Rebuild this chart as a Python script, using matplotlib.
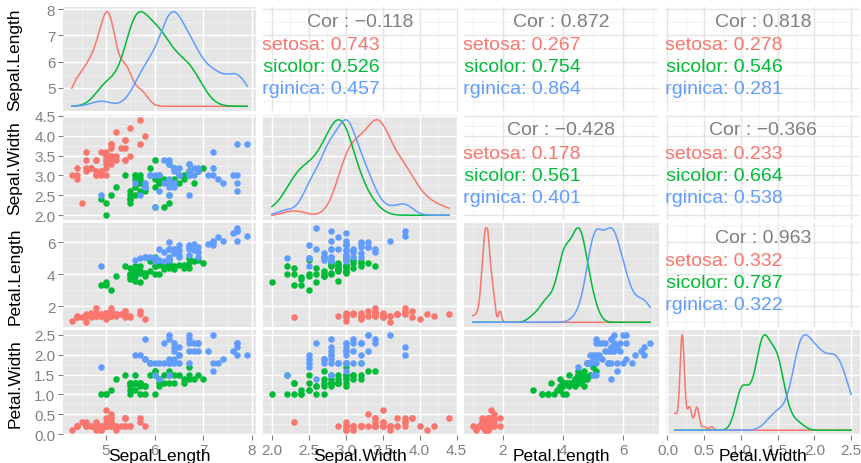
import numpy as np
import matplotlib.pyplot as plt

plt.rcParams["font.family"] = ["Liberation Sans", "DejaVu Sans"]

variables = ["Sepal.Length", "Sepal.Width", "Petal.Length", "Petal.Width"]
species = ["setosa", "versicolor", "virginica"]
species_colors = ["#F8766D", "#00BA38", "#619CFF"]
n_per_species = 50

# iris measurements, 50 rows per species in the order above
sepal_length = [
    5.1, 4.9, 4.7, 4.6, 5.0, 5.4, 4.6, 5.0, 4.4, 4.9, 5.4, 4.8, 4.8, 4.3, 5.8, 5.7, 5.4, 5.1, 5.7, 5.1,
    5.4, 5.1, 4.6, 5.1, 4.8, 5.0, 5.0, 5.2, 5.2, 4.7, 4.8, 5.4, 5.2, 5.5, 4.9, 5.0, 5.5, 4.9, 4.4, 5.1,
    5.0, 4.5, 4.4, 5.0, 5.1, 4.8, 5.1, 4.6, 5.3, 5.0,
    7.0, 6.4, 6.9, 5.5, 6.5, 5.7, 6.3, 4.9, 6.6, 5.2, 5.0, 5.9, 6.0, 6.1, 5.6, 6.7, 5.6, 5.8, 6.2, 5.6,
    5.9, 6.1, 6.3, 6.1, 6.4, 6.6, 6.8, 6.7, 6.0, 5.7, 5.5, 5.5, 5.8, 6.0, 5.4, 6.0, 6.7, 6.3, 5.6, 5.5,
    5.5, 6.1, 5.8, 5.0, 5.6, 5.7, 5.7, 6.2, 5.1, 5.7,
    6.3, 5.8, 7.1, 6.3, 6.5, 7.6, 4.9, 7.3, 6.7, 7.2, 6.5, 6.4, 6.8, 5.7, 5.8, 6.4, 6.5, 7.7, 7.7, 6.0,
    6.9, 5.6, 7.7, 6.3, 6.7, 7.2, 6.2, 6.1, 6.4, 7.2, 7.4, 7.9, 6.4, 6.3, 6.1, 7.7, 6.3, 6.4, 6.0, 6.9,
    6.7, 6.9, 5.8, 6.8, 6.7, 6.7, 6.3, 6.5, 6.2, 5.9,
]
sepal_width = [
    3.5, 3.0, 3.2, 3.1, 3.6, 3.9, 3.4, 3.4, 2.9, 3.1, 3.7, 3.4, 3.0, 3.0, 4.0, 4.4, 3.9, 3.5, 3.8, 3.8,
    3.4, 3.7, 3.6, 3.3, 3.4, 3.0, 3.4, 3.5, 3.4, 3.2, 3.1, 3.4, 4.1, 4.2, 3.1, 3.2, 3.5, 3.6, 3.0, 3.4,
    3.5, 2.3, 3.2, 3.5, 3.8, 3.0, 3.8, 3.2, 3.7, 3.3,
    3.2, 3.2, 3.1, 2.3, 2.8, 2.8, 3.3, 2.4, 2.9, 2.7, 2.0, 3.0, 2.2, 2.9, 2.9, 3.1, 3.0, 2.7, 2.2, 2.5,
    3.2, 2.8, 2.5, 2.8, 2.9, 3.0, 2.8, 3.0, 2.9, 2.6, 2.4, 2.4, 2.7, 2.7, 3.0, 3.4, 3.1, 2.3, 3.0, 2.5,
    2.6, 3.0, 2.6, 2.3, 2.7, 3.0, 2.9, 2.9, 2.5, 2.8,
    3.3, 2.7, 3.0, 2.9, 3.0, 3.0, 2.5, 2.9, 2.5, 3.6, 3.2, 2.7, 3.0, 2.5, 2.8, 3.2, 3.0, 3.8, 2.6, 2.2,
    3.2, 2.8, 2.8, 2.7, 3.3, 3.2, 2.8, 3.0, 2.8, 3.0, 2.8, 3.8, 2.8, 2.8, 2.6, 3.0, 3.4, 3.1, 3.0, 3.1,
    3.1, 3.1, 2.7, 3.2, 3.3, 3.0, 2.5, 3.0, 3.4, 3.0,
]
petal_length = [
    1.4, 1.4, 1.3, 1.5, 1.4, 1.7, 1.4, 1.5, 1.4, 1.5, 1.5, 1.6, 1.4, 1.1, 1.2, 1.5, 1.3, 1.4, 1.7, 1.5,
    1.7, 1.5, 1.0, 1.7, 1.9, 1.6, 1.6, 1.5, 1.4, 1.6, 1.6, 1.5, 1.5, 1.4, 1.5, 1.2, 1.3, 1.4, 1.3, 1.5,
    1.3, 1.3, 1.3, 1.6, 1.9, 1.4, 1.6, 1.4, 1.5, 1.4,
    4.7, 4.5, 4.9, 4.0, 4.6, 4.5, 4.7, 3.3, 4.6, 3.9, 3.5, 4.2, 4.0, 4.7, 3.6, 4.4, 4.5, 4.1, 4.5, 3.9,
    4.8, 4.0, 4.9, 4.7, 4.3, 4.4, 4.8, 5.0, 4.5, 3.5, 3.8, 3.7, 3.9, 5.1, 4.5, 4.5, 4.7, 4.4, 4.1, 4.0,
    4.4, 4.6, 4.0, 3.3, 4.2, 4.2, 4.2, 4.3, 3.0, 4.1,
    6.0, 5.1, 5.9, 5.6, 5.8, 6.6, 4.5, 6.3, 5.8, 6.1, 5.1, 5.3, 5.5, 5.0, 5.1, 5.3, 5.5, 6.7, 6.9, 5.0,
    5.7, 4.9, 6.7, 4.9, 5.7, 6.0, 4.8, 4.9, 5.6, 5.8, 6.1, 6.4, 5.6, 5.1, 5.6, 6.1, 5.6, 5.5, 4.8, 5.4,
    5.6, 5.1, 5.1, 5.9, 5.7, 5.2, 5.0, 5.2, 5.4, 5.1,
]
petal_width = [
    0.2, 0.2, 0.2, 0.2, 0.2, 0.4, 0.3, 0.2, 0.2, 0.1, 0.2, 0.2, 0.1, 0.1, 0.2, 0.4, 0.4, 0.3, 0.3, 0.3,
    0.2, 0.4, 0.2, 0.5, 0.2, 0.2, 0.4, 0.2, 0.2, 0.2, 0.2, 0.4, 0.1, 0.2, 0.2, 0.2, 0.2, 0.1, 0.2, 0.2,
    0.3, 0.3, 0.2, 0.6, 0.4, 0.3, 0.2, 0.2, 0.2, 0.2,
    1.4, 1.5, 1.5, 1.3, 1.5, 1.3, 1.6, 1.0, 1.3, 1.4, 1.0, 1.5, 1.0, 1.4, 1.3, 1.4, 1.5, 1.0, 1.5, 1.1,
    1.8, 1.3, 1.5, 1.2, 1.3, 1.4, 1.4, 1.7, 1.5, 1.0, 1.1, 1.0, 1.2, 1.6, 1.5, 1.6, 1.5, 1.3, 1.3, 1.3,
    1.2, 1.4, 1.2, 1.0, 1.3, 1.2, 1.3, 1.3, 1.1, 1.3,
    2.5, 1.9, 2.1, 1.8, 2.2, 2.1, 1.7, 1.8, 1.8, 2.5, 2.0, 1.9, 2.1, 2.0, 2.4, 2.3, 1.8, 2.2, 2.3, 1.5,
    2.3, 2.0, 2.0, 1.8, 2.1, 1.8, 1.8, 1.8, 2.1, 1.6, 1.9, 2.0, 2.2, 1.5, 1.4, 2.3, 2.4, 1.8, 1.8, 2.1,
    2.4, 2.3, 1.9, 2.3, 2.5, 2.3, 1.9, 2.0, 2.3, 1.8,
]

# correlation labels for the upper triangle, one entry per (row, col) pair
cor_pairs = [(0, 1), (0, 2), (0, 3), (1, 2), (1, 3), (2, 3)]
cor_total = ["\u22120.118", "0.872", "0.818", "\u22120.428", "\u22120.366", "0.963"]
cor_setosa = ["0.743", "0.267", "0.278", "0.178", "0.233", "0.332"]
cor_versicolor = ["0.526", "0.754", "0.546", "0.561", "0.664", "0.787"]
cor_virginica = ["0.457", "0.864", "0.281", "0.401", "0.538", "0.322"]

# axis breaks and labels for each variable
major_breaks = [
    [5, 6, 7, 8],
    [2.0, 2.5, 3.0, 3.5, 4.0, 4.5],
    [2, 4, 6],
    [0.0, 0.5, 1.0, 1.5, 2.0, 2.5],
]
break_labels = [
    ["5", "6", "7", "8"],
    ["2.0", "2.5", "3.0", "3.5", "4.0", "4.5"],
    ["2", "4", "6"],
    ["0.0", "0.5", "1.0", "1.5", "2.0", "2.5"],
]

columns = [np.array(sepal_length), np.array(sepal_width), np.array(petal_length), np.array(petal_width)]
groups = [slice(i * n_per_species, (i + 1) * n_per_species) for i in range(len(species))]

# panel edges in pixels of the 862x464 canvas
W, H = 862, 464
col_px = [(63, 256), (263, 458), (464, 659), (666, 860)]
row_px = [(8, 112), (116, 221), (224, 328), (331, 436)]

TICK_GREY = "#7F7F7F"


def limits(v):
    lo, hi = v.min(), v.max()
    pad = 0.05 * (hi - lo)
    return lo - pad, hi + pad


def minor_breaks(major, lo, hi):
    step = major[1] - major[0]
    mids = [major[0] - step / 2] + [m + step / 2 for m in major]
    return [m for m in mids if lo <= m <= hi]


def density_curve(v, lo, hi, n=512):
    # gaussian kernel with R's bw.nrd0 bandwidth
    q75, q25 = np.percentile(v, [75, 25])
    bw = 0.9 * min(v.std(ddof=1), (q75 - q25) / 1.34) * len(v) ** -0.2
    grid = np.linspace(lo, hi, n)
    d = np.exp(-0.5 * ((grid[:, None] - v[None, :]) / bw) ** 2).sum(axis=1)
    d /= len(v) * bw * np.sqrt(2 * np.pi)
    return grid, d


fig = plt.figure(figsize=(W / 100, H / 100), dpi=100)

for r in range(4):
    for c in range(4):
        x0, x1 = col_px[c]
        y0, y1 = row_px[r]
        ax = fig.add_axes([x0 / W, 1 - y1 / H, (x1 - x0) / W, (y1 - y0) / H])
        xv, yv = columns[c], columns[r]
        xlo, xhi = limits(xv)
        ylo, yhi = limits(yv)
        ax.set_xlim(xlo, xhi)
        ax.set_ylim(ylo, yhi)
        for s in ax.spines.values():
            s.set_visible(False)

        upper = c > r
        if upper:
            ax.set_facecolor("white")
            grid_major, grid_minor = "#E5E5E5", "#EEEEEE"
        else:
            ax.set_facecolor("#E5E5E5")
            grid_major, grid_minor = "white", "#F2F2F2"

        for m in minor_breaks(major_breaks[c], xlo, xhi):
            ax.axvline(m, color=grid_minor, lw=0.5, zorder=0)
        for m in minor_breaks(major_breaks[r], ylo, yhi):
            ax.axhline(m, color=grid_minor, lw=0.5, zorder=0)
        for m in major_breaks[c]:
            ax.axvline(m, color=grid_major, lw=1.0, zorder=0.5)
        for m in major_breaks[r]:
            ax.axhline(m, color=grid_major, lw=1.0, zorder=0.5)

        if r == c:
            # per-species densities, each stretched over the variable's range
            for g, col in zip(groups, species_colors):
                gx, d = density_curve(xv[g], xv.min(), xv.max())
                d = (d - d.min()) / (d.max() - d.min())
                ax.plot(gx, yv.min() + d * (yv.max() - yv.min()), color=col, lw=1.1, zorder=2)
        elif r > c:
            for g, col in zip(groups, species_colors):
                ax.scatter(xv[g], yv[g], s=22, color=col, linewidths=0, zorder=2)
        else:
            k = cor_pairs.index((r, c))
            ax.text(0.5, 0.865, "Cor : " + cor_total[k], transform=ax.transAxes,
                    ha="center", va="center", fontsize=14, color="#7F7F7F", clip_on=True)
            rows = [cor_setosa[k], cor_versicolor[k], cor_virginica[k]]
            for i, (name, val, col) in enumerate(zip(species, rows, species_colors)):
                ax.text(0.6, 0.635 - i * 0.21, f"{name}: {val}", transform=ax.transAxes,
                        ha="right", va="center", fontsize=14, color=col, clip_on=True)

        if r == 3:
            ax.set_xticks(major_breaks[c])
            ax.set_xticklabels(break_labels[c])
        else:
            ax.set_xticks([])
        if c == 0:
            ax.set_yticks(major_breaks[r])
            ax.set_yticklabels(break_labels[r])
        else:
            ax.set_yticks([])
        ax.tick_params(length=3.5, width=0.8, color=TICK_GREY, labelcolor=TICK_GREY,
                       labelsize=11, pad=2)

# variable names along the bottom and the left side
for c, name in enumerate(variables):
    cx = (col_px[c][0] + col_px[c][1]) / 2
    fig.text(cx / W, 1 - 457 / H, name, ha="center", va="center", fontsize=12.5, color="black")
for r, name in enumerate(variables):
    cy = (row_px[r][0] + row_px[r][1]) / 2
    fig.text(15 / W, 1 - cy / H, name, ha="center", va="center", rotation=90,
             fontsize=12.5, color="black")

fig.savefig("out.png", dpi=100)
